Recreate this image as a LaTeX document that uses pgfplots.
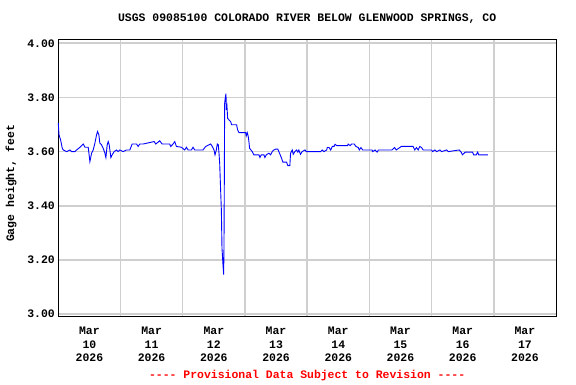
\documentclass[border=0pt]{standalone}
\usepackage{pgfplots}
\pgfplotsset{compat=1.18}
\usepackage{fontspec}
\setmonofont{Liberation Mono}
\renewcommand\familydefault{\ttdefault}
\begin{document}
\begin{tikzpicture}[x=1bp,y=1bp]
\useasboundingbox (0,0) rectangle (576,384);
\begin{axis}[
 at={(58.3bp,68bp)}, anchor=south west,
 scale only axis, width=497.7bp, height=276bp,
 xmin=0, xmax=8, ymin=2.993, ymax=4.012,
 axis line style={black, line width=1bp},
 /pgf/number format/assume math mode=true,
 font=\bfseries\fontsize{11.5}{14}\selectfont,
 ytick={3,3.2,3.4,3.6,3.8,4},
 yticklabel style={/pgf/number format/fixed, /pgf/number format/fixed zerofill, /pgf/number format/precision=2},
 ymajorgrids, xmajorgrids,
 grid style={gray!38, line width=1.5bp},
 major tick length=0pt,
 tick style={draw=none},
 xtick={1,2,3,4,5,6,7}, xticklabels={},
 extra x ticks={0.5,1.5,2.5,3.5,4.5,5.5,6.5,7.5},
 extra x tick labels={{Mar\\10\\2026},{Mar\\11\\2026},{Mar\\12\\2026},{Mar\\13\\2026},{Mar\\14\\2026},{Mar\\15\\2026},{Mar\\16\\2026},{Mar\\17\\2026}},
 extra x tick style={grid=none, major tick length=0pt, tick label style={align=center, yshift=-7bp}},
 ylabel={Gage height, feet},
 ylabel style={at={(axis description cs:-0.095,0.48)}, anchor=center},
 clip=false,
]
\addplot[blue, line width=0.9bp] coordinates {
(0.000,3.705)(0.011,3.662)(0.037,3.643)(0.064,3.612)(0.080,3.606)(0.134,3.600)(0.187,3.606)(0.214,3.600)(0.267,3.600)(0.294,3.606)(0.348,3.616)(0.401,3.628)(0.428,3.616)(0.481,3.616)(0.508,3.563)(0.535,3.594)(0.561,3.606)(0.588,3.631)(0.615,3.662)(0.631,3.674)(0.652,3.662)(0.668,3.631)(0.695,3.625)(0.722,3.612)(0.749,3.594)(0.765,3.578)(0.786,3.625)(0.802,3.637)(0.818,3.625)(0.845,3.578)(0.866,3.588)(0.898,3.600)(0.936,3.606)(0.963,3.600)(0.989,3.606)(1.043,3.600)(1.096,3.606)(1.150,3.606)(1.187,3.628)(1.257,3.628)(1.283,3.619)(1.310,3.628)(1.364,3.628)(1.540,3.637)(1.567,3.628)(1.631,3.640)(1.668,3.628)(1.791,3.628)(1.807,3.619)(1.845,3.628)(1.872,3.637)(1.898,3.619)(1.979,3.616)(2.032,3.606)(2.059,3.616)(2.086,3.606)(2.139,3.606)(2.166,3.616)(2.193,3.606)(2.326,3.606)(2.369,3.619)(2.449,3.628)(2.476,3.619)(2.503,3.606)(2.519,3.588)(2.540,3.606)(2.556,3.628)(2.572,3.625)(2.583,3.594)(2.594,3.557)
(2.610,3.453)(2.621,3.385)(2.631,3.244)(2.647,3.183)(2.658,3.146)(2.663,3.244)(2.669,3.514)(2.674,3.779)(2.684,3.798)(2.695,3.814)(2.701,3.754)(2.711,3.767)(2.722,3.723)(2.743,3.717)(2.770,3.711)(2.786,3.699)(2.866,3.699)(2.882,3.680)(2.904,3.670)(3.011,3.670)(3.021,3.658)(3.037,3.670)(3.053,3.656)(3.064,3.637)(3.075,3.612)(3.096,3.606)(3.118,3.600)(3.144,3.588)(3.225,3.588)(3.241,3.578)(3.262,3.588)(3.305,3.588)(3.321,3.578)(3.342,3.588)(3.385,3.594)(3.412,3.588)(3.439,3.600)(3.465,3.606)(3.492,3.609)(3.529,3.609)(3.556,3.594)(3.588,3.576)(3.610,3.561)(3.669,3.561)(3.690,3.548)(3.722,3.548)(3.733,3.594)(3.760,3.606)(3.776,3.590)(3.802,3.600)(3.829,3.606)(3.850,3.598)(3.866,3.606)(3.893,3.590)(3.920,3.600)(3.963,3.606)(3.989,3.600)
(4.216,3.600)(4.243,3.606)(4.270,3.600)(4.314,3.606)(4.324,3.615)(4.351,3.615)(4.378,3.606)(4.405,3.619)(4.432,3.619)(4.449,3.627)(4.476,3.622)(4.649,3.622)(4.659,3.628)(4.692,3.622)(4.714,3.628)(4.757,3.628)(4.784,3.619)(4.822,3.615)(4.838,3.606)(4.865,3.615)(4.892,3.606)(5.043,3.606)(5.054,3.600)(5.092,3.606)(5.124,3.598)(5.146,3.606)(5.362,3.606)(5.405,3.615)(5.432,3.606)(5.514,3.619)(5.703,3.619)(5.730,3.606)(5.757,3.615)(5.784,3.606)(5.811,3.619)(5.838,3.615)(5.865,3.606)(6.000,3.606)(6.016,3.600)(6.054,3.606)(6.081,3.600)(6.135,3.606)(6.162,3.600)(6.243,3.606)(6.270,3.600)(6.443,3.606)(6.476,3.598)(6.497,3.588)(6.541,3.598)(6.659,3.598)(6.676,3.588)(6.719,3.588)(6.741,3.598)(6.757,3.588)(6.903,3.588)
};
\node[font=\bfseries\fontsize{11.5}{14}\selectfont] at (axis description cs:0.5,1.076) {USGS 09085100 COLORADO RIVER BELOW GLENWOOD SPRINGS, CO};
\node[red, font=\bfseries\fontsize{11.5}{14}\selectfont] at (axis description cs:0.5,-0.214) {---- Provisional Data Subject to Revision ----};
\end{axis}
\end{tikzpicture}
\end{document}
